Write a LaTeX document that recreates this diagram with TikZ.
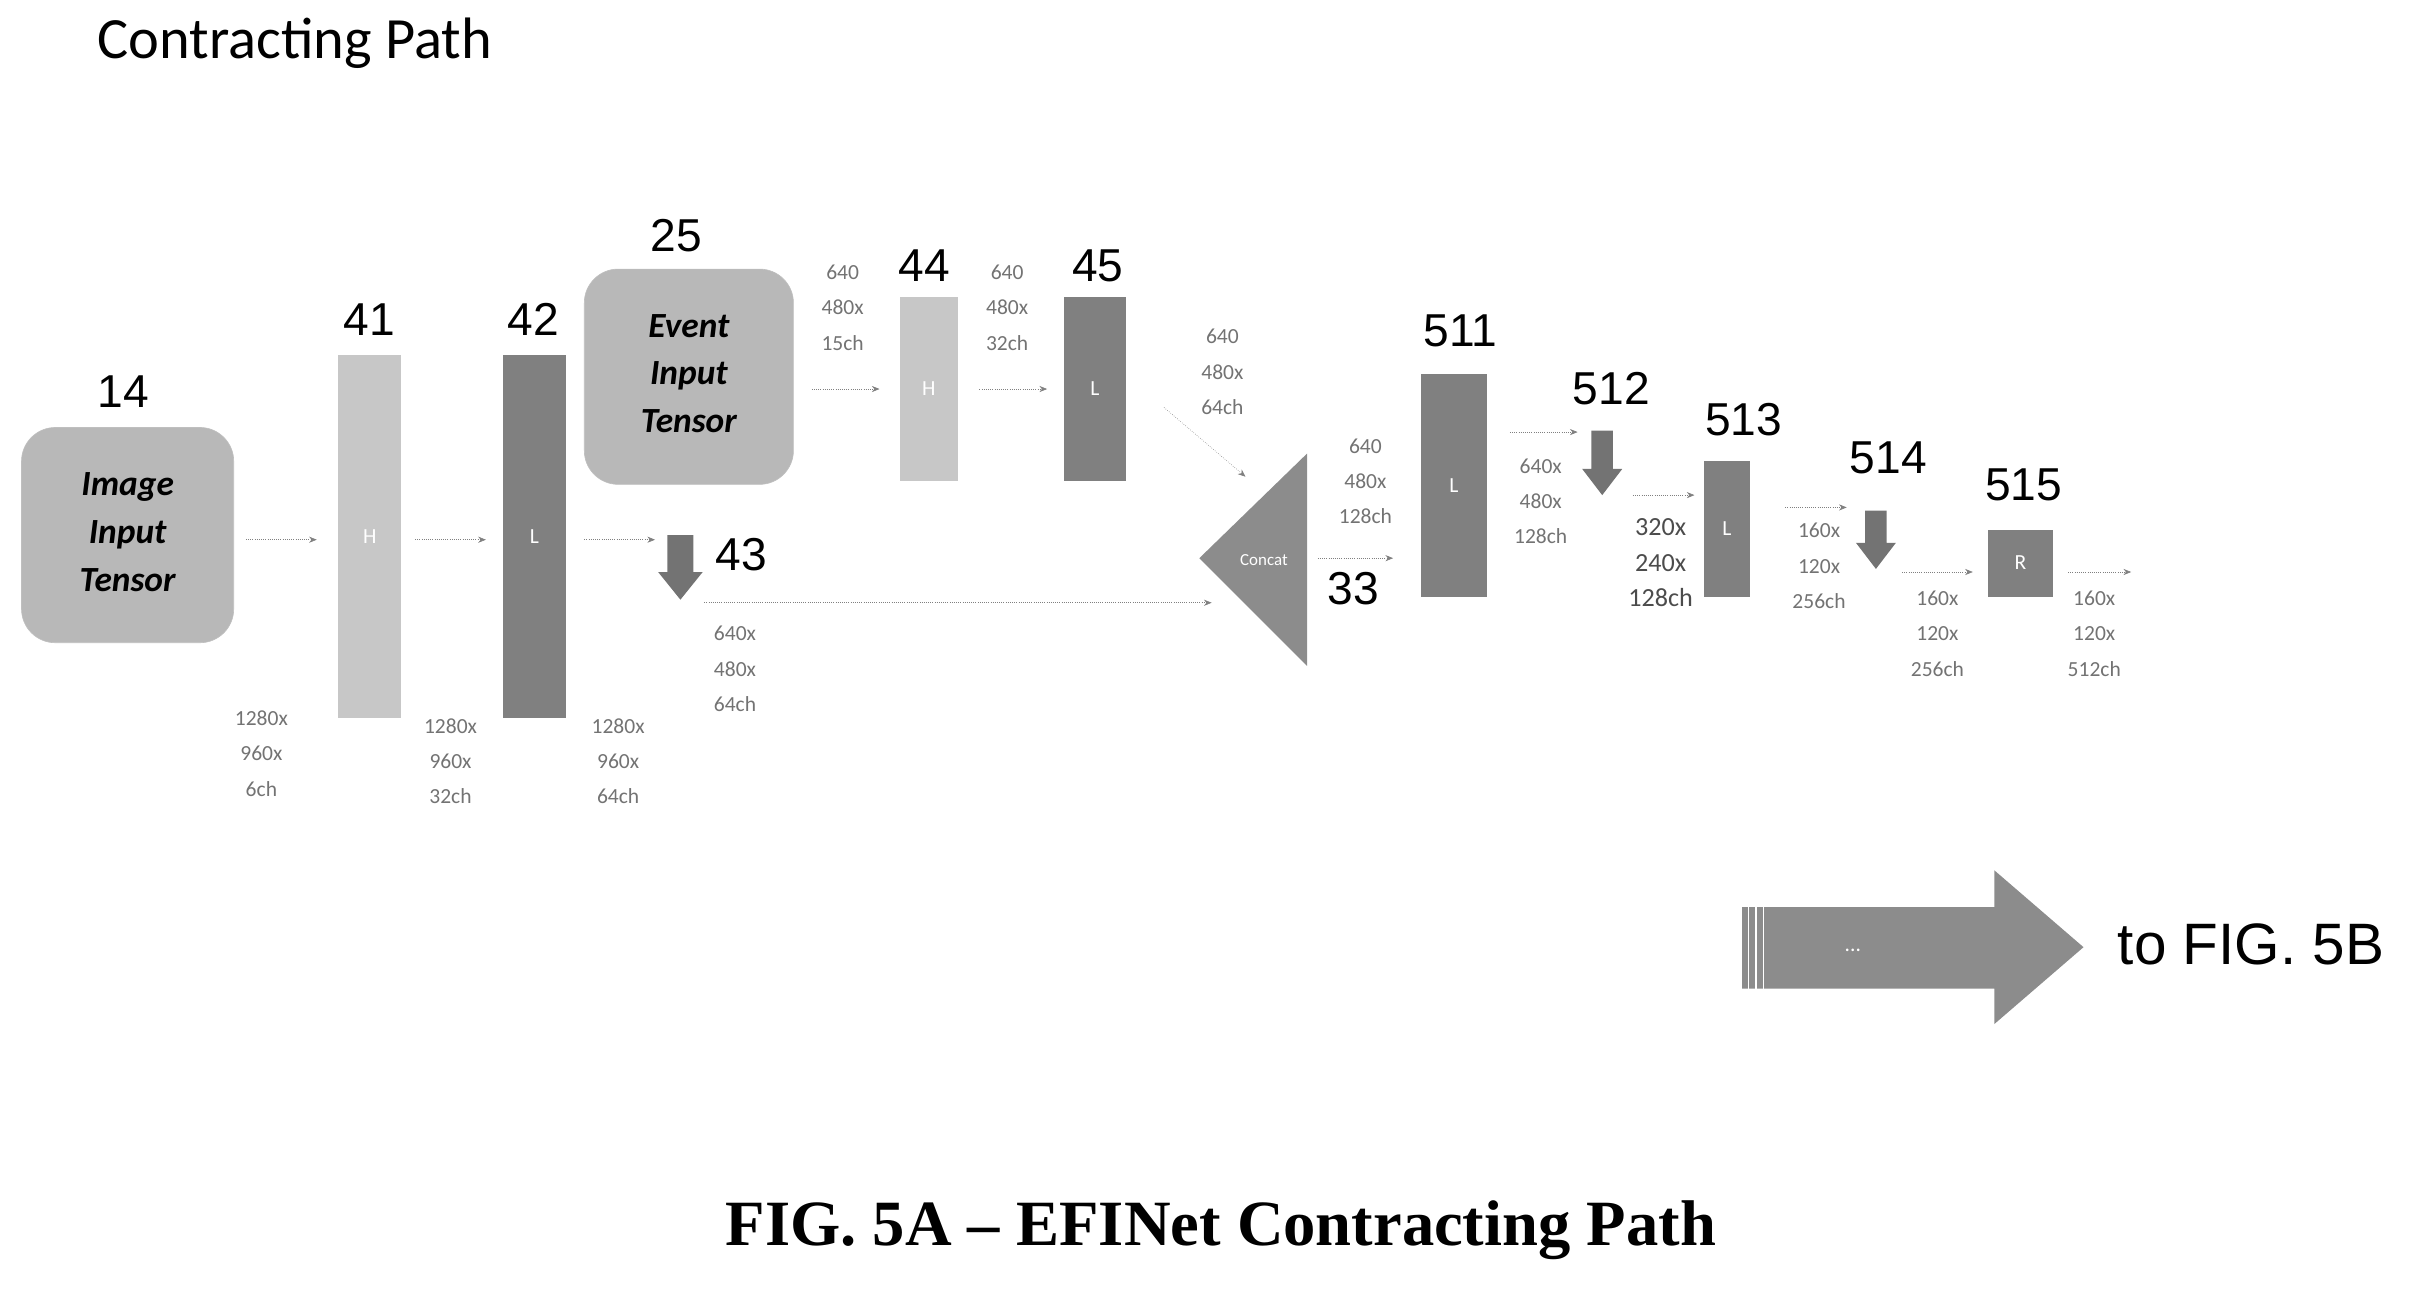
\documentclass[tikz,border=0pt]{standalone}
\usepackage{fontspec}
\setmainfont{Carlito}
\newfontfamily\arialf{Liberation Sans}
\newfontfamily\timesf{Liberation Serif}
\usetikzlibrary{arrows.meta,shapes.geometric}
\begin{document}
\begin{tikzpicture}[x=1pt,y=-1pt,
  num/.style={font=\arialf\fontsize{30}{32}\selectfont},
  dim/.style={font=\fontsize{14}{23}\selectfont,text=black!55,align=center},
  tens/.style={draw=black!25,fill=black!28,rounded corners=22pt},
  hbar/.style={fill=black!22},
  lbar/.style={fill=black!50},
  darr/.style={draw=black!50,densely dotted,-{Stealth[length=5pt,width=4pt]}},
  down/.style={fill=black!55,draw=none},
  inl/.style={text=white,font=\fontsize{14}{16}\selectfont}]
\useasboundingbox (0,0) rectangle (1568,838);
\node[font=\fontsize{38}{40}\selectfont,anchor=west] (title) at (60,28) {Contracting Path};
% tensors
\draw[tens] (14,278) rectangle (152,418);
\node[font=\bfseries\itshape\fontsize{23}{31}\selectfont,align=center] (img) at (83,346) {Image\\Input\\Tensor};
\node[num] (l14) at (80,255) {14};
\draw[tens] (380,175) rectangle (516,315);
\node[font=\bfseries\itshape\fontsize{23}{31}\selectfont,align=center] (evt) at (448,243) {Event\\Input\\Tensor};
\node[num] (l25) at (440,153) {25};
% bars
\path[hbar] (220,231) rectangle (261,467); \node[inl] (b41) at (240.5,349) {H}; \node[num] (l41) at (240,208) {41};
\path[lbar] (327,231) rectangle (368,467); \node[inl] (b42) at (347.5,349) {L}; \node[num] (l42) at (347,208) {42};
\path[hbar] (585,193) rectangle (623,313); \node[inl] (b44) at (604,253) {H}; \node[num] (l44) at (601,173) {44};
\path[lbar] (692,193) rectangle (732,313); \node[inl] (b45) at (712,253) {L}; \node[num] (l45) at (714,173) {45};
\path[lbar] (924,243) rectangle (967,388); \node[inl] (b511) at (945.5,316) {L}; \node[num] (l511) at (950,215) {511};
\path[lbar] (1108,300) rectangle (1138,388); \node[inl] (b513) at (1123,344) {L}; \node[num] (l513) at (1134,273) {513};
\path[lbar] (1293,345) rectangle (1335,388); \node[inl] (b515) at (1314,366) {R}; \node[num] (l515) at (1316,315) {515};
% concat
\path[fill=black!45] (780,363) -- (850,295) -- (850,433) -- cycle;
\node[inl,font=\fontsize{11}{12}\selectfont] (cc) at (822,364) {Concat};
\node[num] (l33) at (880,383) {33};
% down arrows
\path[down] (434,348) -- (451,348) -- (451,372) -- (457,372) -- (442.5,390) -- (428,372) -- (434,372) -- cycle;
\node[num] (l43) at (482,361) {43};
\path[down] (1035,280) -- (1049,280) -- (1049,305) -- (1055,305) -- (1042,322) -- (1029,305) -- (1035,305) -- cycle;
\node[num] (l512) at (1048,253) {512};
\path[down] (1213,332) -- (1227,332) -- (1227,353) -- (1233,353) -- (1220,370) -- (1207,353) -- (1213,353) -- cycle;
\node[num] (l514) at (1228,298) {514};
% connectors
\coordinate (a1) at (160,351); \coordinate (a1e) at (206,351);
\draw[darr] (a1) -- (a1e);
\coordinate (a2) at (270,351); \coordinate (a2e) at (316,351);
\draw[darr] (a2) -- (a2e);
\coordinate (a3) at (380,351); \coordinate (a3e) at (426,351);
\draw[darr] (a3) -- (a3e);
\coordinate (a4) at (458,392); \coordinate (a4e) at (788,392);
\draw[darr] (a4) -- (a4e);
\coordinate (a5) at (528,253); \coordinate (a5e) at (572,253);
\draw[darr] (a5) -- (a5e);
\coordinate (a6) at (637,253); \coordinate (a6e) at (681,253);
\draw[darr] (a6) -- (a6e);
\coordinate (a7) at (757,265); \coordinate (a7e) at (810,310);
\draw[darr] (a7) -- (a7e);
\coordinate (a8) at (857,363); \coordinate (a8e) at (906,363);
\draw[darr] (a8) -- (a8e);
\coordinate (a9) at (982,281); \coordinate (a9e) at (1026,281);
\draw[darr] (a9) -- (a9e);
\coordinate (a10) at (1062,322); \coordinate (a10e) at (1102,322);
\draw[darr] (a10) -- (a10e);
\coordinate (a11) at (1161,330); \coordinate (a11e) at (1201,330);
\draw[darr] (a11) -- (a11e);
\coordinate (a12) at (1237,372); \coordinate (a12e) at (1283,372);
\draw[darr] (a12) -- (a12e);
\coordinate (a13) at (1345,372); \coordinate (a13e) at (1386,372);
\draw[darr] (a13) -- (a13e);
% dims
\node[dim] (d1) at (170,490) {1280x\\960x\\6ch};
\node[dim] (d2) at (293,495) {1280x\\960x\\32ch};
\node[dim] (d3) at (402,495) {1280x\\960x\\64ch};
\node[dim] (d4) at (478,435) {640x\\480x\\64ch};
\node[dim] (d5) at (548,200) {640\\480x\\15ch};
\node[dim] (d6) at (655,200) {640\\480x\\32ch};
\node[dim] (d7) at (795,242) {640\\480x\\64ch};
\node[dim] (d8) at (888,313) {640\\480x\\128ch};
\node[dim] (d9) at (1002,326) {640x\\480x\\128ch};
\node[dim,text=black!70,font=\fontsize{17}{23}\selectfont] (d10) at (1080,366) {320x\\240x\\128ch};
\node[dim] (d11) at (1183,368) {160x\\120x\\256ch};
\node[dim] (d12) at (1260,412) {160x\\120x\\256ch};
\node[dim] (d13) at (1362,412) {160x\\120x\\512ch};
% big arrow
\path[fill=black!45] (1133,590) -- (1297,590) -- (1297,566) -- (1355,616) -- (1297,666) -- (1297,643) -- (1133,643) -- cycle;
\foreach \xx in {1137,1142,1147} \draw[white,line width=1pt] (\xx,590) -- (\xx,643);
\node[inl] (dots) at (1205,618) {...};
\node[font=\arialf\fontsize{38}{40}\selectfont] (to) at (1464,614) {to FIG. 5B};
\node[font=\timesf\bfseries\fontsize{42}{44}\selectfont] (cap) at (794,800) {FIG. 5A – EFINet Contracting Path};
\end{tikzpicture}
\end{document}
